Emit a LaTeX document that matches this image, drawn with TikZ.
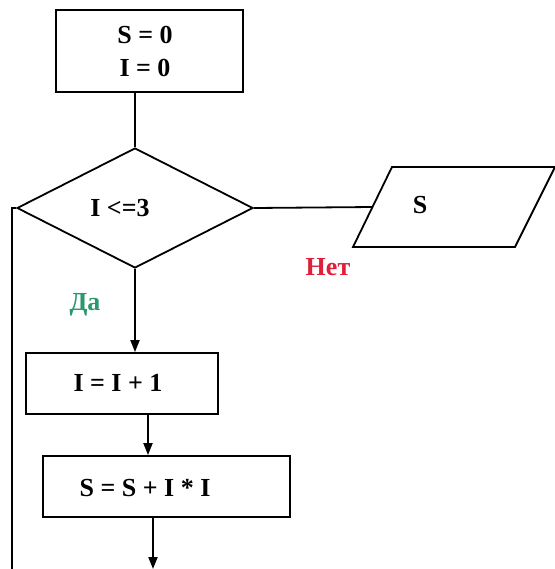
\documentclass[tikz,border=0pt]{standalone}
\usepackage{fontspec}
\setmainfont{Liberation Serif}
\usepackage{tikz}
\usetikzlibrary{calc,positioning,shapes.geometric,arrows.meta}
\definecolor{netred}{RGB}{222,32,58}
\definecolor{dagreen}{RGB}{44,150,108}

\begin{document}
\begin{tikzpicture}[x=0.5pt, y=-0.5pt, line width=0.9pt,
  txt/.style={font=\fontsize{13}{16.5}\selectfont\bfseries, inner sep=0pt},
  box/.style={draw, rectangle, inner sep=0pt},
  arr/.style={-{Triangle[length=6pt,width=4.5pt]}}]
\useasboundingbox (0,0) rectangle (555,569);
%blocks
\node[box, minimum width=93.5pt, minimum height=41pt] (init) at (149.5,51) {};
\node[draw, diamond, inner sep=0pt, minimum width=118pt, minimum height=60pt] (cond) at (135,208) {};
\node[box, minimum width=96pt, minimum height=30.5pt] (inc) at (122,383.5) {};
\node[box, minimum width=123.5pt, minimum height=30.5pt] (sum) at (166.5,486.5) {};
%output parallelogram
\draw (353,247) coordinate (outbl) -- (392,167) coordinate (outtl) -- (555,167) -- (515,247) -- cycle;
\coordinate (out) at ($(outbl)!.5!(outtl)$);
%texts
\node[txt, align=center] (initt) at (145,51) {S = 0\\I = 0};
\node[txt] (condt) at (120,208) {I <=3};
\node[txt] (outt) at (420,205) {S};
\node[txt] (inct) at (118,383) {I = I + 1};
\node[txt] (sumt) at (145,488) {S = S + I * I};
\node[txt, text=netred] (net) at (328,267) {Нет};
\node[txt, text=dagreen] (da) at (85,305) {Да};
%free ends
\coordinate (next) at (153,569);
\coordinate (back) at (12,569);
%connectors
\draw (cond.north) -- (cond.north |- init.south);
\draw (cond.east) -- (out);
\draw[arr] (cond.south) -- (cond.south |- inc.north);
\draw[arr] ([xshift=13pt]inc.south) -- ([xshift=13pt]inc.south |- sum.north);
\draw[arr] (sum.south -| next) -- (next);
\draw (cond.west) -| (back);
\end{tikzpicture}
\end{document}
